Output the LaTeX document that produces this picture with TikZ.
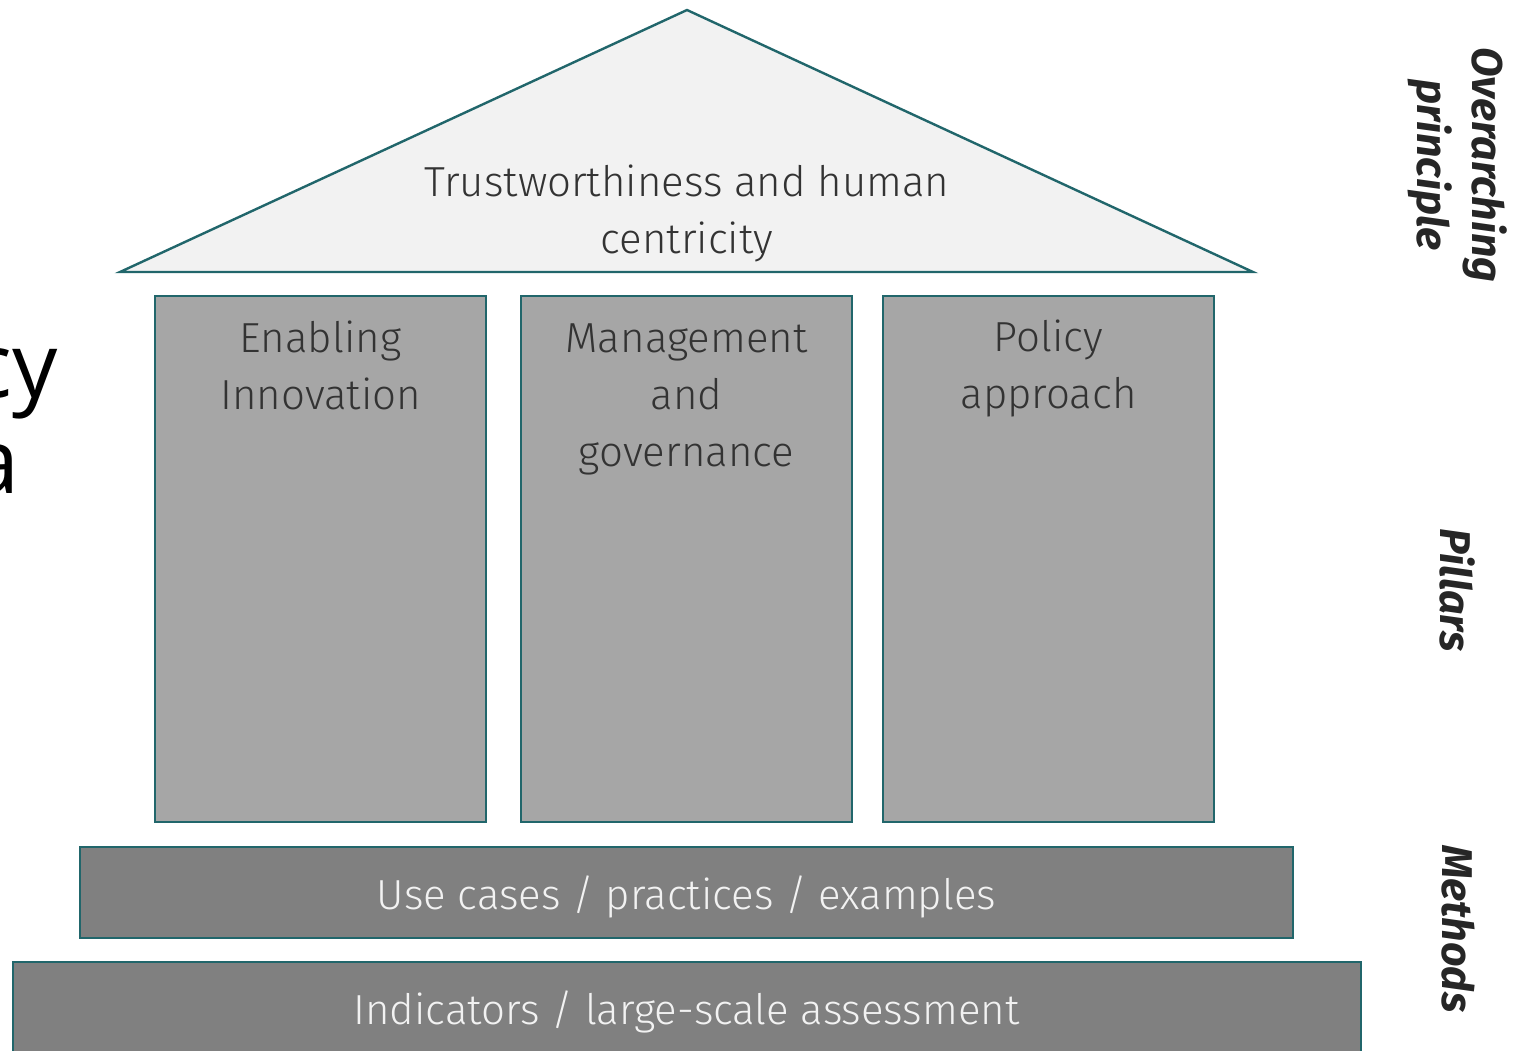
\documentclass[tikz,border=0pt]{standalone}
\usepackage{fontspec}
\setmainfont{Fira Sans Light}[BoldItalicFont={Fira Sans Bold Italic}]
\newfontfamily\sidefont{Open Sans}
\usetikzlibrary{positioning}
\definecolor{edgeteal}{RGB}{33,102,107}
\definecolor{rooffill}{RGB}{242,242,242}
\definecolor{pillarfill}{RGB}{166,166,166}
\definecolor{basefill}{RGB}{128,128,128}
\definecolor{inkgrey}{RGB}{51,51,51}
\tikzset{x = 0.5pt, y = -0.5pt,
  pillar/.style = {draw = edgeteal, line width = 1.4pt, fill = pillarfill, inner sep = 0pt,
    minimum width = 165.5pt, minimum height = 263pt},
  layer/.style = {draw = edgeteal, line width = 1.4pt, fill = basefill, inner sep = 0pt},
  title/.style = {align = center, text = inkgrey, font = \fontsize{21}{28.5}\selectfont},
  basetext/.style = {text = rooffill, font = \fontsize{21}{28.5}\selectfont},
  side/.style = {rotate = -90, align = center, text = black!85, font = \fontsize{21.5}{27.5}\selectfont\bfseries\itshape}}

\begin{document}
\begin{tikzpicture}
  \useasboundingbox (0,0) rectangle (1519,1050);
  % roof
  \coordinate (apex) at (687,10);
  \coordinate (eaveL) at (120,272);
  \coordinate (eaveR) at (1253,272);
  \draw [draw = edgeteal, line width = 1.2pt, fill = rooffill] (eaveL) -- (apex) -- (eaveR) -- cycle;
  \node [title] (roof) at (687,213) {Trustworthiness and human\\centricity};
  % pillars
  \node [pillar] (p1) at (320.5,559) {};
  \node [pillar] (p2) at (686.5,559) {};
  \node [pillar] (p3) at (1048.5,559) {};
  \node [title] (t1) at (320.5,365) {Enabling\\Innovation};
  \node [title] (t2) at (686.5,399) {Management\\and\\governance};
  \node [title] (t3) at (1048.5,368) {Policy\\approach};
  % methods
  \node [layer, minimum width = 606.5pt, minimum height = 45.5pt] (m1) at (686.5,892.5) {};
  \node [basetext] at (686.5,897) {Use cases / practices / examples};
  \node [layer, minimum width = 674pt, minimum height = 50pt] (m2) at (687,1012) {};
  \node [basetext] at (686.5,1012) {Indicators / large-scale assessment};
  % cut-off text on the left
  \node [anchor = base east, inner sep = 0pt, font = \sidefont\fontsize{45}{48}\selectfont] (cy) at (58,397) {cy};
  \node [anchor = base east, inner sep = 0pt, font = \sidefont\fontsize{45}{48}\selectfont] (a) at (20,493) {a};
  % side labels
  \node [side] (over) at (1458,165) {Overarching\\principle};
  \node [side] (pil) at (1458,590) {Pillars};
  \node [side] (meth) at (1458,929) {Methods};
\end{tikzpicture}
\end{document}
